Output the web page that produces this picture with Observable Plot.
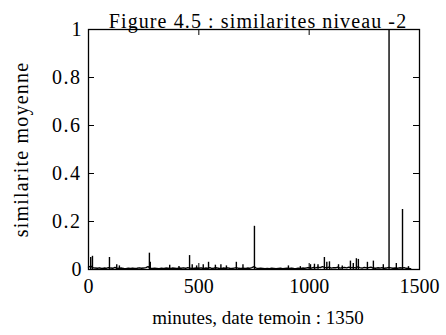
<!DOCTYPE html>
<html>
<head>
<meta charset="utf-8">
<script src="https://cdn.jsdelivr.net/npm/d3@7"></script>
<script src="https://cdn.jsdelivr.net/npm/@observablehq/plot@0.6"></script>
<style>
  html, body { margin: 0; padding: 0; background: white; }
  svg text { font-family: 'Liberation Serif', 'Times New Roman', serif !important; }
</style>
</head>
<body>
<div id="chart"></div>
<script>
const titleText = "Figure 4.5 : similarites niveau -2";
const xLabel = "minutes, date temoin : 1350";
const yLabel = "similarite moyenne";
const xTicks = [0, 500, 1000, 1500];
const yTicks = [0, 0.2, 0.4, 0.6, 0.8, 1];

// baseline similarity sampled every 10 minutes, from 0 to 1460
const baseStep = 10;
const baseValues = [
  0.010,0.014,0.008,0.006,0.005,0.007,0.004,0.006,0.005,0.008,
  0.006,0.005,0.009,0.004,0.005,0.006,0.004,0.003,0.005,0.004,
  0.006,0.004,0.005,0.007,0.005,0.006,0.008,0.012,0.006,0.004,
  0.005,0.004,0.003,0.005,0.004,0.006,0.005,0.004,0.006,0.005,
  0.004,0.006,0.005,0.007,0.005,0.008,0.006,0.004,0.005,0.006,
  0.005,0.007,0.004,0.006,0.005,0.008,0.004,0.006,0.007,0.005,
  0.004,0.006,0.005,0.007,0.005,0.004,0.006,0.008,0.005,0.004,
  0.005,0.004,0.006,0.005,0.008,0.012,0.006,0.004,0.005,0.004,
  0.003,0.004,0.003,0.005,0.004,0.003,0.004,0.005,0.003,0.004,
  0.005,0.004,0.006,0.004,0.003,0.005,0.004,0.006,0.005,0.007,
  0.008,0.006,0.009,0.007,0.010,0.008,0.012,0.009,0.007,0.010,
  0.006,0.008,0.007,0.010,0.006,0.008,0.009,0.007,0.010,0.008,
  0.009,0.007,0.011,0.008,0.006,0.009,0.007,0.008,0.010,0.006,
  0.005,0.007,0.006,0.008,0.005,0.006,0.009,0.007,0.005,0.006,
  0.005,0.007,0.006,0.008,0.005,0.004,0.003
];

// narrow peaks: minute and height
const spikeMinutes = [10,18,95,128,140,276,280,368,410,458,470,490,520,544,575,600,625,670,700,752,
  906,960,1006,1024,1040,1069,1080,1092,1133,1150,1187,1200,1214,1223,1264,1291,1336,1362,1395,1423,1450];
const spikeValues = [0.05,0.055,0.05,0.02,0.015,0.068,0.03,0.018,0.012,0.058,0.02,0.015,0.02,0.03,0.018,0.02,0.015,0.03,0.02,0.18,
  0.015,0.012,0.02,0.022,0.02,0.05,0.03,0.032,0.02,0.015,0.035,0.025,0.045,0.042,0.03,0.035,0.02,1.0,0.025,0.25,0.012];

const base = baseValues.map((v, i) => ({m: i * baseStep, v}));
const spikes = spikeMinutes.map((m, i) => ({m, v: spikeValues[i]}));

const W = 446, H = 335;
const mL = 88, mR = 27, mT = 29, mB = 66;
const fw = W - mL - mR, fh = H - mT - mB;
const inner = [0.2, 0.4, 0.6, 0.8];
const innerX = [500, 1000];
const serif = "'Liberation Serif', 'Times New Roman', serif";

const chart = Plot.plot({
  width: W,
  height: H,
  marginLeft: mL,
  marginRight: mR,
  marginTop: mT,
  marginBottom: mB,
  style: {fontFamily: serif, fontSize: "19px", background: "white", color: "black"},
  x: {domain: [0, 1500]},
  y: {domain: [0, 1]},
  marks: [
    Plot.lineY(base, {x: "m", y: "v", stroke: "black", strokeWidth: 1.4}),
    Plot.ruleX(spikes, {x: "m", y1: 0, y2: "v", stroke: "black", strokeWidth: 1.4}),
    Plot.frame({stroke: "black", strokeWidth: 1.3}),
    Plot.tickY(inner, {y: d => d, insetRight: fw - 6, stroke: "black"}),
    Plot.tickY(inner, {y: d => d, insetLeft: fw - 6, stroke: "black"}),
    Plot.tickX(innerX, {x: d => d, insetBottom: fh - 6, stroke: "black"}),
    Plot.tickX(innerX, {x: d => d, insetTop: fh - 6, stroke: "black"}),
    Plot.axisY({ticks: yTicks, tickSize: 0, tickPadding: 7, tickFormat: d => String(d), label: null, fontSize: 20}),
    Plot.axisX({ticks: xTicks, tickSize: 0, tickPadding: 9, tickFormat: d => String(d), label: null, fontSize: 20}),
    Plot.text([titleText], {frameAnchor: "top", lineAnchor: "bottom", dy: -2, dx: 4, fontSize: 20}),
    Plot.text([xLabel], {frameAnchor: "bottom", lineAnchor: "bottom", dy: 54, dx: 4, fontSize: 19}),
    Plot.text([yLabel], {frameAnchor: "left", rotate: -90, textAnchor: "middle", lineAnchor: "middle", dx: -67, fontSize: 20})
  ]
});
const svgSel = d3.select(chart);
svgSel.selectAll("text").filter(function() { return this.textContent === titleText; }).style("letter-spacing", "1.1px");
svgSel.selectAll("text").filter(function() { return this.textContent === yLabel; }).style("letter-spacing", "1.2px");
svgSel.selectAll("text").filter(function() { return this.textContent.startsWith("0."); }).style("letter-spacing", "1.5px");
document.getElementById("chart").appendChild(chart);
</script>
</body>
</html>
